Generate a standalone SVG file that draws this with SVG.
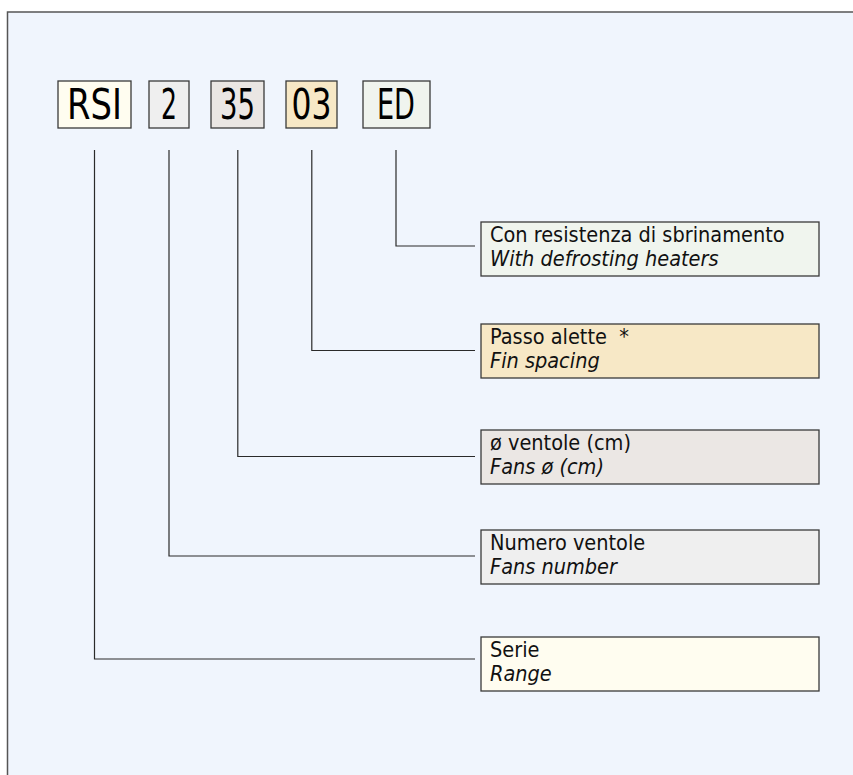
<svg xmlns="http://www.w3.org/2000/svg" width="853" height="775" viewBox="0 0 853 775">
<style>
.code{font-family:"DejaVu Sans Condensed","DejaVu Sans","Liberation Sans",sans-serif;font-size:42px;fill:#000;text-anchor:middle}
.lbl{font-family:"DejaVu Sans Condensed","DejaVu Sans","Liberation Sans",sans-serif;font-size:21.5px;fill:#111}
.it{font-style:italic}
.box{stroke:#3a3a3a;stroke-width:1.3}
.conn{fill:none;stroke:#2a2a2a;stroke-width:1.2}
</style>
<rect x="0" y="0" width="853" height="775" fill="#ffffff"/>
<rect x="7.5" y="12" width="860" height="780" fill="#f0f5fd" stroke="#555" stroke-width="1.5"/>
<g id="code-RSI"><rect class="box" x="58" y="81" width="73" height="47" fill="#fffdf0"/><text class="code" x="94.5" y="118.5" textLength="55" lengthAdjust="spacingAndGlyphs">RSI</text></g>
<g id="code-2"><rect class="box" x="149" y="81" width="40" height="47" fill="#efefef"/><text class="code" x="169" y="118.5" textLength="16" lengthAdjust="spacingAndGlyphs">2</text></g>
<g id="code-35"><rect class="box" x="211" y="81" width="53" height="47" fill="#eae6e3"/><text class="code" x="237.5" y="118.5" textLength="35" lengthAdjust="spacingAndGlyphs">35</text></g>
<g id="code-03"><rect class="box" x="286" y="81" width="51" height="47" fill="#f7e8c6"/><text class="code" x="311.5" y="118.5" textLength="40" lengthAdjust="spacingAndGlyphs">03</text></g>
<g id="code-ED"><rect class="box" x="363" y="81" width="67" height="47" fill="#f0f4ee"/><text class="code" x="396" y="118.5" textLength="38" lengthAdjust="spacingAndGlyphs">ED</text></g>
<g id="connectors">
<polyline class="conn" points="396,150 396,246 475,246"/>
<polyline class="conn" points="311.8,150 311.8,350.5 475,350.5"/>
<polyline class="conn" points="237.8,150 237.8,456.5 475,456.5"/>
<polyline class="conn" points="169,150 169,556 475,556"/>
<polyline class="conn" points="94.5,150 94.5,659 475,659"/>
</g>
<g id="label-ED"><rect class="box" x="481" y="222" width="338" height="54" fill="#f0f5ee"/><text class="lbl" x="490" y="242">Con resistenza di sbrinamento</text><text class="lbl it" x="490" y="266">With defrosting heaters</text></g>
<g id="label-03"><rect class="box" x="481" y="324" width="338" height="54" fill="#f7e8c6"/><text class="lbl" x="490" y="344" xml:space="preserve">Passo alette  *</text><text class="lbl it" x="490" y="368">Fin spacing</text></g>
<g id="label-35"><rect class="box" x="481" y="430" width="338" height="54" fill="#ebe7e4"/><text class="lbl" x="490" y="450">ø ventole (cm)</text><text class="lbl it" x="490" y="474">Fans ø (cm)</text></g>
<g id="label-2"><rect class="box" x="481" y="530" width="338" height="54" fill="#efefef"/><text class="lbl" x="490" y="550">Numero ventole</text><text class="lbl it" x="490" y="574">Fans number</text></g>
<g id="label-RSI"><rect class="box" x="481" y="637" width="338" height="54" fill="#fffdf0"/><text class="lbl" x="490" y="657">Serie</text><text class="lbl it" x="490" y="681">Range</text></g>
</svg>
